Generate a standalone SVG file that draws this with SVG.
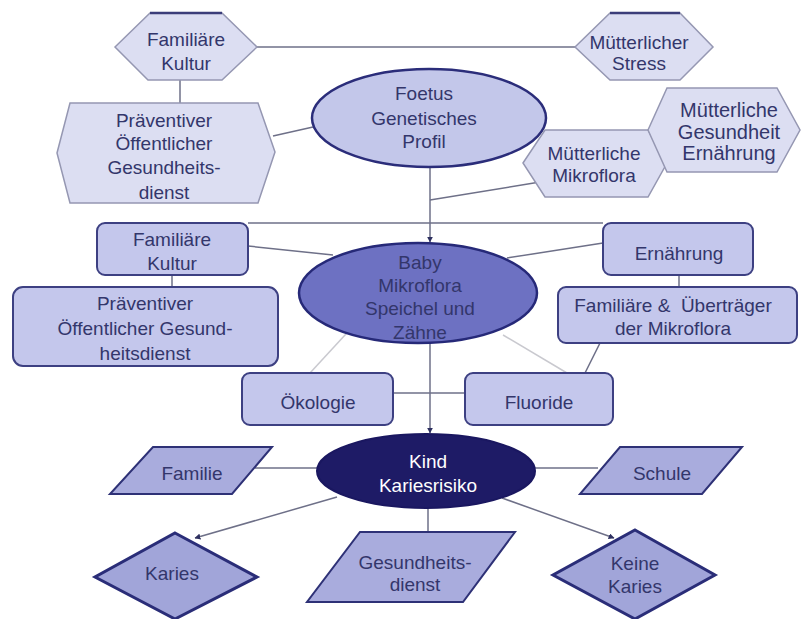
<svg xmlns="http://www.w3.org/2000/svg" width="801" height="619" viewBox="0 0 801 619">
<defs>
<style>
text{font-family:"Liberation Sans",Arial,sans-serif;font-size:19px;fill:#33366b;text-anchor:middle;dominant-baseline:central}
.hex{fill:#dcdef2;stroke:#9597b2;stroke-width:1.5}
.rr{fill:#c4c7ec;stroke:#3d4082;stroke-width:2}
.par{fill:#a9acdd;stroke:#2e3176;stroke-width:2}
.dia{fill:#a1a5d9;stroke:#2a2d78;stroke-width:3}
.ln{stroke:#6e7088;stroke-width:1.5;fill:none}
.lt{stroke:#c9c9cf;stroke-width:1.5;fill:none}
.topedge{stroke:#3b3d7a;stroke-width:2.5}
</style>
<marker id="arr" viewBox="0 0 10 10" refX="9" refY="5" markerWidth="6" markerHeight="6" orient="auto-start-reverse" markerUnits="userSpaceOnUse">
<path d="M0,0 L10,5 L0,10 z" fill="#2e3060"/>
</marker>
</defs>
<rect width="801" height="619" fill="#ffffff"/>
<g id="connectors">
<line class="ln" x1="257" y1="47" x2="575" y2="47"/>
<line class="ln" x1="180" y1="80" x2="180" y2="103"/>
<line class="ln" x1="273" y1="136" x2="313" y2="127"/>
<line class="ln" x1="430" y1="167" x2="430" y2="242" marker-end="url(#arr)"/>
<line class="ln" x1="540" y1="182" x2="430" y2="200"/>
<line class="ln" x1="248" y1="223" x2="603" y2="223"/>
<line class="ln" x1="248" y1="246" x2="333" y2="255"/>
<line class="ln" x1="172" y1="275" x2="172" y2="287"/>
<line class="ln" x1="603" y1="243" x2="507" y2="258"/>
<line class="ln" x1="679" y1="275" x2="679" y2="287"/>
<line class="ln" x1="600" y1="343" x2="585" y2="373"/>
<line class="lt" x1="503" y1="335" x2="567" y2="373"/>
<line class="lt" x1="357" y1="322" x2="310" y2="373"/>
<line class="ln" x1="393" y1="393" x2="465" y2="393"/>
<line class="ln" x1="430" y1="343" x2="430" y2="433" marker-end="url(#arr)"/>
<line class="ln" x1="255" y1="468" x2="317" y2="468"/>
<line class="ln" x1="535" y1="468" x2="598" y2="468"/>
<line class="ln" x1="337" y1="497" x2="195" y2="538" marker-end="url(#arr)"/>
<line class="ln" x1="502" y1="498" x2="614" y2="538" marker-end="url(#arr)"/>
<line class="ln" x1="428" y1="508" x2="428" y2="532"/>
</g>
<g id="familiaere-kultur-top">
<polygon class="hex" points="115,47 150,13 222,13 257,47 222,80 148,80"/>
<line class="topedge" x1="150" y1="13" x2="222" y2="13"/>
<text x="186" y="39">Familiäre</text>
<text x="186" y="63">Kultur</text>
</g>
<g id="muetterlicher-stress">
<polygon class="hex" points="575,47 610,13 680,13 713,47 680,80 610,80"/>
<line class="topedge" x1="610" y1="13" x2="680" y2="13"/>
<text x="639" y="42">Mütterlicher</text>
<text x="639" y="63">Stress</text>
</g>
<g id="praeventiver-top">
<polygon class="hex" points="57,153 70,103 258,103 275,152 258,203 70,203"/>
<text x="164" y="120">Präventiver</text>
<text x="164" y="143">Öffentlicher</text>
<text x="164" y="167">Gesundheits-</text>
<text x="164" y="192">dienst</text>
</g>
<g id="foetus">
<ellipse cx="429" cy="118" rx="117" ry="49" fill="#c3c7ea" stroke="#2b2d7a" stroke-width="2.5"/>
<text x="424" y="93">Foetus</text>
<text x="424" y="118">Genetisches</text>
<text x="424" y="141">Profil</text>
</g>
<g id="muetterliche-mikroflora">
<polygon class="hex" points="523,163 545,130 648,130 667,163 648,197 545,197"/>
<text x="594" y="153">Mütterliche</text>
<text x="594" y="175">Mikroflora</text>
</g>
<g id="muetterliche-gesundheit">
<polygon class="hex" points="648,130 667,88 777,88 800,130 777,172 667,172"/>
<text x="729" y="110" style="font-size:20px">Mütterliche</text>
<text x="729" y="132" style="font-size:20px">Gesundheit</text>
<text x="729" y="153" style="font-size:20px">Ernährung</text>
</g>
<g id="familiaere-kultur-rect">
<rect class="rr" x="97" y="223" width="151" height="52" rx="8"/>
<text x="172" y="239">Familiäre</text>
<text x="172" y="263">Kultur</text>
</g>
<g id="praeventiver-rect">
<rect class="rr" x="13" y="287" width="265" height="79" rx="10"/>
<text x="145" y="303">Präventiver</text>
<text x="145" y="328">Öffentlicher Gesund-</text>
<text x="145" y="353">heitsdienst</text>
</g>
<g id="baby">
<ellipse cx="418" cy="293" rx="119" ry="50" fill="#6d71c2" stroke="#262978" stroke-width="2.5"/>
<text x="420" y="262">Baby</text>
<text x="420" y="285">Mikroflora</text>
<text x="420" y="308">Speichel und</text>
<text x="420" y="332">Zähne</text>
</g>
<g id="ernaehrung">
<rect class="rr" x="603" y="223" width="150" height="52" rx="8"/>
<text x="679" y="253">Ernährung</text>
</g>
<g id="familiaere-uebertraeger">
<rect class="rr" x="558" y="287" width="239" height="56" rx="8"/>
<text x="673" y="305" xml:space="preserve">Familiäre &amp;  Überträger</text>
<text x="673" y="328">der Mikroflora</text>
</g>
<g id="oekologie">
<rect class="rr" x="242" y="373" width="151" height="52" rx="8"/>
<text x="318" y="402">Ökologie</text>
</g>
<g id="fluoride">
<rect class="rr" x="465" y="373" width="148" height="52" rx="8"/>
<text x="539" y="402">Fluoride</text>
</g>
<g id="kind">
<ellipse cx="426" cy="471" rx="109" ry="37" fill="#1e1b66" stroke="#1a1760" stroke-width="2"/>
<text x="428" y="461" style="fill:#ffffff">Kind</text>
<text x="428" y="485" style="fill:#ffffff">Kariesrisiko</text>
</g>
<g id="familie">
<polygon class="par" points="153,447 272,447 232,494 110,494"/>
<text x="192" y="473">Familie</text>
</g>
<g id="schule">
<polygon class="par" points="620,447 742,447 702,494 580,494"/>
<text x="662" y="473">Schule</text>
</g>
<g id="gesundheitsdienst">
<polygon class="par" points="360,532 515,532 463,602 307,602"/>
<text x="415" y="562">Gesundheits-</text>
<text x="415" y="584">dienst</text>
</g>
<g id="karies">
<polygon class="dia" points="175,533 257,577 175,619 95,577"/>
<text x="172" y="573">Karies</text>
</g>
<g id="keine-karies">
<polygon class="dia" points="635,530 715,575 635,619 553,575"/>
<text x="635" y="563">Keine</text>
<text x="635" y="586">Karies</text>
</g>
</svg>
